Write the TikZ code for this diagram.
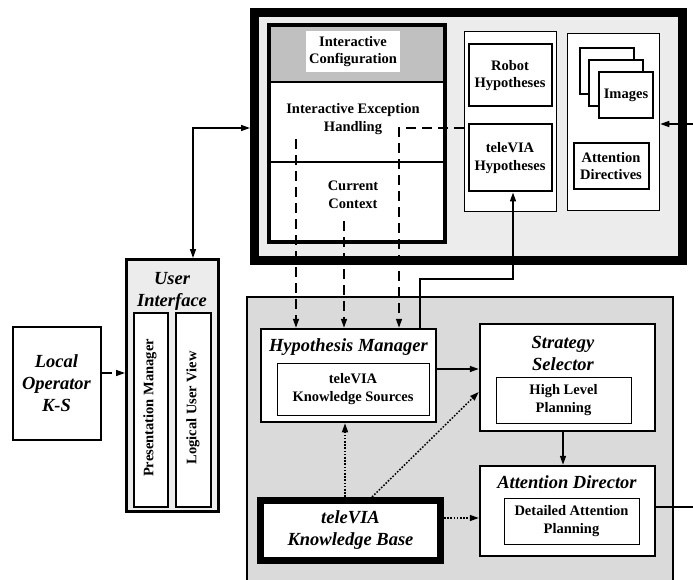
\documentclass[tikz,border=0pt]{standalone}
\usepackage{fontspec}
\setmainfont{Liberation Serif}
\usetikzlibrary{arrows.meta}
\definecolor{lgray}{HTML}{ECECEC}
\definecolor{mgray}{HTML}{DADADA}
\definecolor{hgray}{HTML}{C0C0C0}
\begin{document}
\begin{tikzpicture}[x=1pt,y=-1pt,
  bx/.style={draw, fill=white, inner sep=0pt, line width=#1},
  bx/.default=1.5pt,
  nt/.style={font=\fontsize{14.5}{17.5}\selectfont\bfseries, align=center},
  tt/.style={font=\fontsize{18.5}{22}\selectfont\bfseries\itshape, align=center},
  ar/.style={line width=1.5pt, -{Triangle[length=9pt,width=6pt]}},
  dsh/.style={ar, dash pattern=on 10pt off 6pt},
  dtt/.style={ar, dash pattern=on 1.6pt off 1.6pt},
]
\useasboundingbox (0,0) rectangle (693,580);

% ---------- top box ----------
\node[bx=9pt, fill=lgray, minimum width=428pt, minimum height=248pt] (topbox) at (468.5,136.5) {};

% interactive column
\fill[white] (269,25) rectangle (445,242);
\fill[hgray] (269,25) rectangle (445,82);
\draw[line width=1.5pt] (269,82) -- (445,82);
\node[draw, line width=3.5pt, inner sep=0pt, minimum width=176pt, minimum height=217pt] (icol) at (357,133.5) {};
\draw[line width=2pt] (icol.west |- 0,162) -- (icol.east |- 0,162);
\node[fill=white, inner sep=0pt, minimum width=94pt, minimum height=41pt, nt] (icfg) at (353,51.5) {Interactive\\Configuration};
\node[nt] (ieh) at (353,119) {Interactive Exception\\Handling};
\node[nt] (cc) at (353,195) {Current\\Context};

% hypotheses column
\node[bx, minimum width=92pt, minimum height=180pt] (hcol) at (510.5,121.5) {};
\node[bx=2pt, nt, minimum width=83pt, minimum height=62pt] (rh) at (510,75.5) {Robot\\Hypotheses};
\node[bx=2pt, nt, minimum width=83pt, minimum height=67pt] (th) at (510,158) {teleVIA\\Hypotheses};

% images column
\node[bx, minimum width=92pt, minimum height=177pt] (icl) at (613.5,122) {};
\node[bx=2pt, minimum width=54pt, minimum height=46pt] (im1) at (607,71) {};
\node[bx=2pt, minimum width=54pt, minimum height=46pt] (im2) at (616,83) {};
\node[bx=2pt, nt, minimum width=54pt, minimum height=46pt] (im3) at (626,95) {Images};
\node[bx=2pt, nt, minimum width=75pt, minimum height=46pt] (adv) at (611,166) {Attention\\Directives};

% ---------- bottom box ----------
\fill[mgray] (247,297) rectangle (673,590);
\draw[line width=1.5pt] (247,590) -- (247,297) -- (673,297) -- (673,590);

\node[bx=2.5pt, minimum width=175pt, minimum height=93pt] (hm) at (348.5,375.5) {};
\node[tt] (hmt) at (348.5,347) {Hypothesis Manager};
\node[bx=1pt, nt, minimum width=152pt, minimum height=52pt] (ks) at (353,389) {teleVIA\\Knowledge Sources};

\node[bx=2.5pt, minimum width=175pt, minimum height=107pt] (ss) at (567.5,377.5) {};
\node[tt] (sst) at (563,353) {Strategy\\Selector};
\node[bx=1pt, nt, minimum width=135pt, minimum height=46pt] (hlp) at (563.5,400) {High Level\\Planning};

\node[bx=2.5pt, minimum width=175pt, minimum height=90pt] (adir) at (567.5,511) {};
\node[tt] (adirt) at (567,482) {Attention Director};
\node[bx=1pt, nt, minimum width=135pt, minimum height=46pt] (dap) at (571.5,521) {Detailed Attention\\Planning};

\node[bx=7pt, tt, minimum width=180pt, minimum height=60pt] (kb) at (350.5,530.5) {teleVIA\\Knowledge Base};

% ---------- user interface ----------
\node[bx=3pt, fill=lgray, minimum width=92pt, minimum height=252pt] (ui) at (172.5,385.5) {};
\node[tt] (uit) at (172,291) {User\\Interface};
\node[bx, minimum width=34pt, minimum height=194pt] (pm) at (151,410) {};
\node[nt, rotate=90] (pmt) at (150,408) {Presentation Manager};
\node[bx, minimum width=35pt, minimum height=194pt] (luv) at (193.5,410) {};
\node[nt, rotate=90] (luvt) at (193,408) {Logical User View};

\node[bx=2pt, tt, minimum width=88pt, minimum height=113pt] (lo) at (56.5,383) {Local\\Operator\\K-S};

% ---------- coordinates ----------
\coordinate (ua) at (193,128);
\coordinate (d1) at (296,139);
\coordinate (d2) at (344,221);
\coordinate (d3) at (399,128);
\coordinate (c4) at (420,279);
\coordinate (c5) at (513,279);
\coordinate (rin) at (693,124);
\coordinate (lou) at (0,373);
\coordinate (hs) at (0,369);
\coordinate (k1) at (372,0);
\coordinate (k2) at (0,392);
\coordinate (k3) at (345,0);
\coordinate (k4) at (0,518);
\coordinate (sa) at (563,0);
\coordinate (aout) at (693,507);

% ---------- connectors ----------
\draw[ar, {Triangle[length=9pt,width=6pt]}-{Triangle[length=9pt,width=6pt]}] (ui.north -| ua) |- (topbox.west |- ua);
\draw[dsh] (d1) -- (hm.north -| d1);
\draw[dsh] (d2) -- (hm.north -| d2);
\draw[dsh] (hcol.west |- d3) -| (hm.north -| d3);
\draw[ar] (hm.north -| c4) |- (c5) -- (th.south -| c5);
\draw[ar] (rin) -- (icl.east |- rin);
\draw[dsh] (lo.east |- lou) -- (ui.west |- lou);
\draw[ar] (hm.east |- hs) -- (ss.west |- hs);
\draw[dtt] (kb.north -| k1) -- (ss.west |- k2);
\draw[dtt] (kb.north -| k3) -- (hm.south -| k3);
\draw[dtt] (kb.east |- k4) -- (adir.west |- k4);
\draw[ar] (ss.south -| sa) -- (adir.north -| sa);
\draw[line width=1.5pt] (adir.east |- aout) -- (aout);
\end{tikzpicture}
\end{document}
